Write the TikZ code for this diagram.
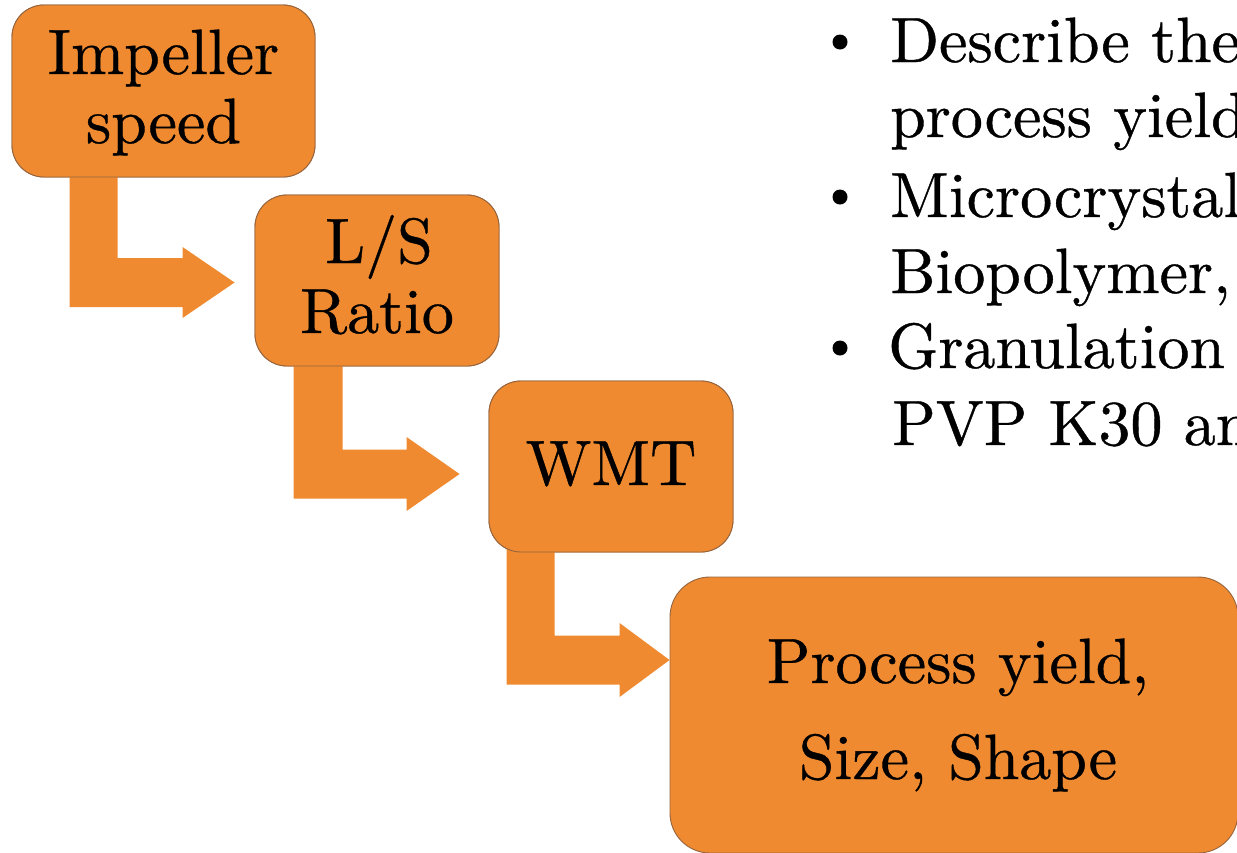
\documentclass[tikz,border=0pt]{standalone}
\usepackage{fontspec}
\setmainfont{lmroman10-regular.otf}[FakeBold=0.6]
\usetikzlibrary{calc}
\definecolor{boxorange}{RGB}{239,138,48}
\definecolor{boxedge}{RGB}{150,100,60}
\tikzset{
  x=1pt, y=-1pt,
  flowbox/.style={draw=boxedge, line width=0.9pt, fill=boxorange, rounded corners=32pt, inner sep=0pt},
  bentarrow/.style={fill=boxorange},
  boxtext/.style={font=\fontsize{64}{69}\selectfont, inner sep=0pt, anchor=base, text=black},
  bullettext/.style={font=\fontsize{64}{76}\selectfont, inner sep=0pt, anchor=base west, text=black},
}
\begin{document}
\begin{tikzpicture}
\useasboundingbox (0,0) rectangle (1237,852);
\clip (0,0) rectangle (1237,852);
% boxes (shapes)
\node[flowbox, minimum width=303pt, minimum height=172pt] (b1) at (163.5,91) {};
\node[flowbox, minimum width=244pt, minimum height=171pt] (b2) at (377,280.5) {};
\node[flowbox, minimum width=244pt, minimum height=171pt] (b3) at (611,466.5) {};
\node[flowbox, minimum width=568pt, minimum height=276pt, rounded corners=40pt] (b4) at (954,715) {};
% bent block arrows, drawn from box to box
\coordinate (a1s) at ($(b1.south west)+(58,-6)$);
\coordinate (a1t) at ($(b2.west)+(-20,2)$);
\fill[bentarrow] (a1s) -- ++(48,0) |- ($(a1t)+(-52,-24.5)$) -- ++(0,-11) -- (a1t) -- ($(a1t)+(-52,35.5)$) -- ++(0,-11) -| (a1s) -- cycle;
\coordinate (a2s) at ($(b2.south west)+(39,-6)$);
\coordinate (a2t) at ($(b3.west)+(-29,7.5)$);
\fill[bentarrow] (a2s) -- ++(49,0) |- ($(a2t)+(-53,-24.5)$) -- ++(0,-12.5) -- (a2t) -- ($(a2t)+(-53,37)$) -- ++(0,-12.5) -| (a2s) -- cycle;
\coordinate (a3s) at ($(b3.south west)+(18,-6)$);
\coordinate (a3t) at ($(b4.west)+(0,-55)$);
\fill[bentarrow] (a3s) -- ++(48,0) |- ($(a3t)+(-50,-24.5)$) -- ++(0,-12.5) -- (a3t) -- ($(a3t)+(-50,37)$) -- ++(0,-12.5) -| (a3s) -- cycle;
% redraw boxes on top of arrow stems
\node[flowbox, minimum width=303pt, minimum height=172pt] at (b1) {};
\node[flowbox, minimum width=244pt, minimum height=171pt] at (b2) {};
\node[flowbox, minimum width=244pt, minimum height=171pt] at (b3) {};
% box texts
\node[boxtext] (t1a) at (163.5,74) {Impeller};
\node[boxtext] (t1b) at (163.5,143) {speed};
\node[boxtext] (t2a) at (379,263) {L/S};
\node[boxtext] (t2b) at (377,333) {Ratio};
\node[boxtext] (t3) at (611,485) {WMT};
\node[boxtext] (t4a) at (958,683) {Process yield,};
\node[boxtext] (t4b) at (958,779) {Size, Shape};
% bullet list (clipped at the right edge)
\fill (840,42) circle (7.5) coordinate (d1);
\fill (840,197) circle (7.5) coordinate (d2);
\fill (840,348) circle (7.5) coordinate (d3);
\node[bullettext] (r1) at (890,62) {Describe the};
\node[bullettext] (r2) at (890,137) {process yield};
\node[bullettext] (r3) at (890,217) {Microcrystall};
\node[bullettext] (r4) at (890,293) {Biopolymer,};
\node[bullettext] (r5) at (888,368) {Granulation};
\node[bullettext] (r6) at (892,445) {PVP K30 and};
\end{tikzpicture}
\end{document}
